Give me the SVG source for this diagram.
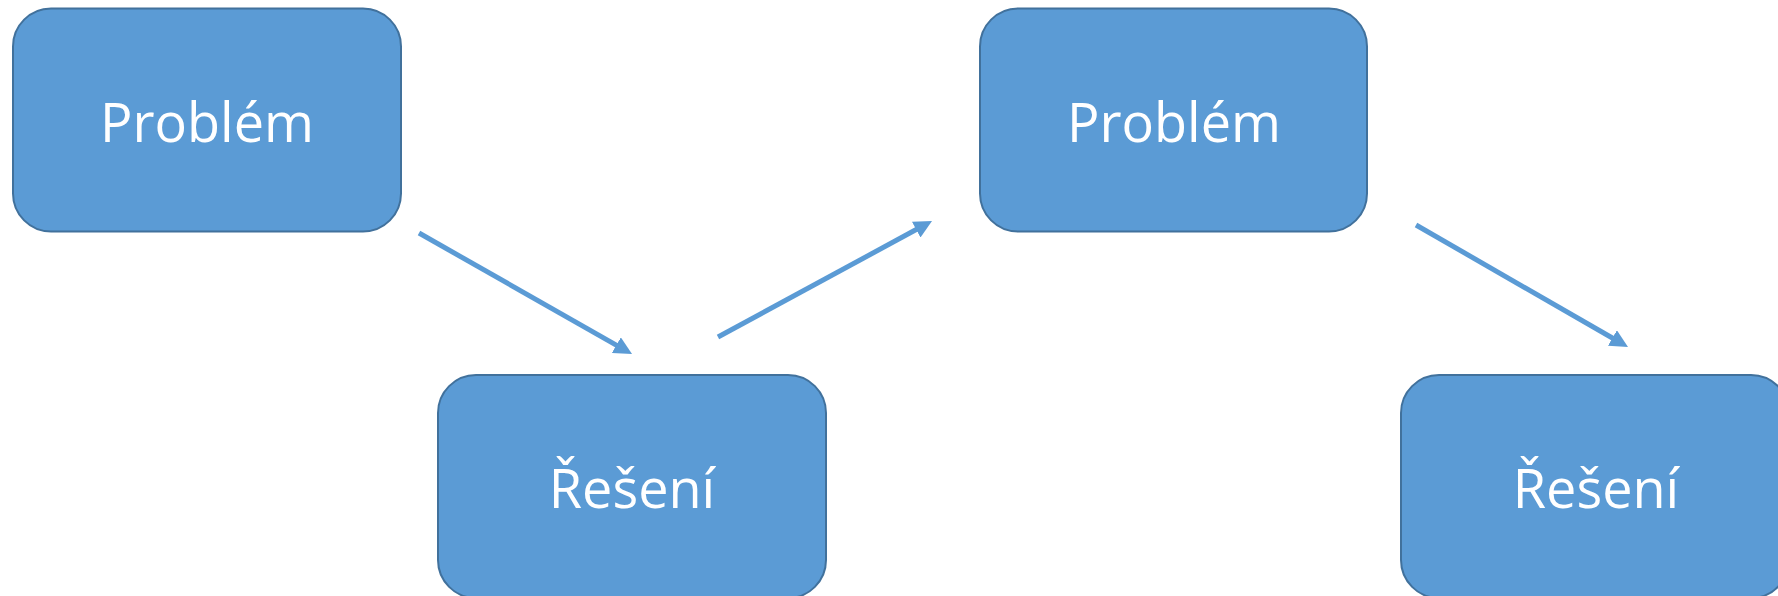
<svg xmlns="http://www.w3.org/2000/svg" width="1778" height="596" viewBox="0 0 1778 596">
<defs>
<style>
.box{fill:#5B9BD5;stroke:#41719C;stroke-width:2}
.lbl{fill:#FFFFFF;font-family:"Open Sans","Noto Sans","Liberation Sans",sans-serif;font-size:54px;text-anchor:middle}
.conn{stroke:#5B9BD5;stroke-width:5;fill:none;marker-end:url(#ah)}
</style>
<marker id="ah" markerUnits="userSpaceOnUse" viewBox="0 0 18 18" markerWidth="18" markerHeight="18" refX="9" refY="9" orient="auto">
<path d="M0,0 L18,9 L0,18 z" fill="#5B9BD5"/>
</marker>
</defs>
<rect width="1778" height="596" fill="#FFFFFF"/>
<g id="connectors">
<line class="conn" x1="419" y1="233" x2="624.2" y2="349.6"/>
<line class="conn" x1="718" y1="337" x2="924.1" y2="225.3"/>
<line class="conn" x1="1416" y1="225" x2="1620.2" y2="342.5"/>
</g>
<g id="problem1">
<rect class="box" x="13" y="8.5" width="388" height="223" rx="38" ry="38"/>
<text class="lbl" x="207" y="142">Problém</text>
</g>
<g id="reseni1">
<rect class="box" x="438" y="375" width="388" height="223" rx="38" ry="38"/>
<text class="lbl" x="632" y="508">Řešení</text>
</g>
<g id="problem2">
<rect class="box" x="980" y="8.5" width="387" height="223" rx="38" ry="38"/>
<text class="lbl" x="1174" y="142">Problém</text>
</g>
<g id="reseni2">
<rect class="box" x="1401" y="375" width="388" height="223" rx="38" ry="38"/>
<text class="lbl" x="1596" y="508">Řešení</text>
</g>
</svg>
